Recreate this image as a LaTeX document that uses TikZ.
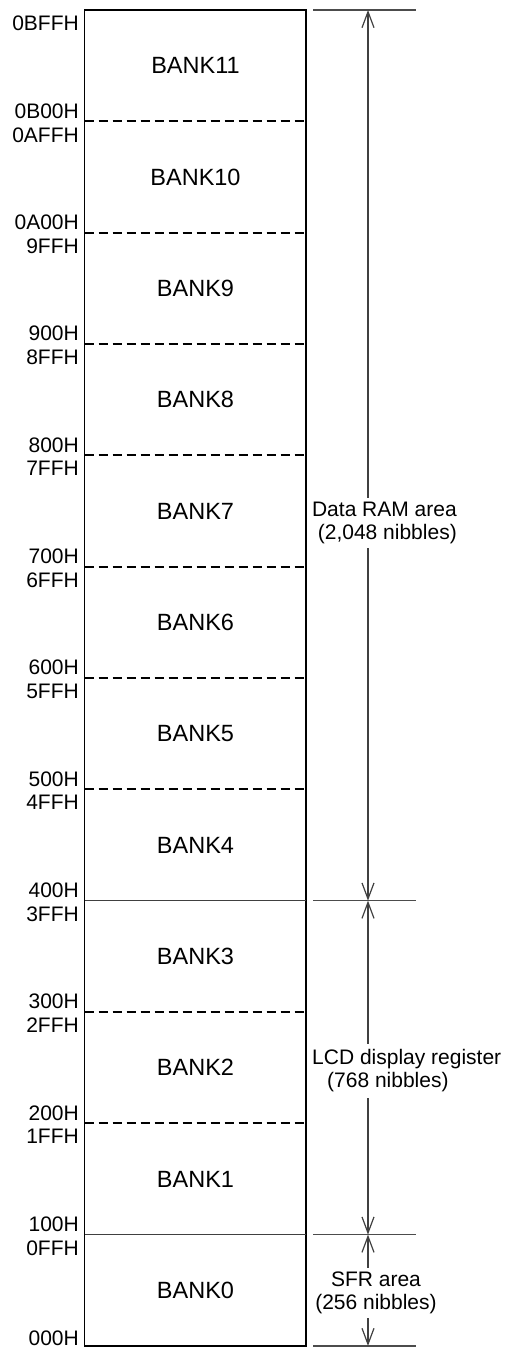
\documentclass[tikz,border=0pt]{standalone}
\usepackage{fontspec}
\setmainfont{Liberation Sans}
\usetikzlibrary{positioning, arrows.meta}

\begin{document}
\begin{tikzpicture}[
  x=1pt, y=-1pt,
  font=\fontsize{21}{23}\selectfont,
  frame/.style={draw=black, line width=1.8pt},
  split/.style={draw=black!75, line width=1.2pt},
  dashsplit/.style={draw=black, line width=1.8pt, dash pattern=on 9pt off 5pt},
  addr/.style={inner sep=0pt},
  bank/.style={inner sep=0pt, font=\fontsize{23.5}{26}\selectfont},
  tick/.style={draw=black!70, line width=1.2pt},
  span/.style={{Straight Barb[length=16pt, width=12pt]}-{Straight Barb[length=16pt, width=12pt]}, draw=black!75, line width=1.2pt},
  area/.style={fill=white, inner xsep=3pt, inner ysep=4pt}
]
  \useasboundingbox (0,0) rectangle (505,1350);
  \def\T{10}
  \def\H{111.33}
  \def\L{84.5}
  \def\R{306}
  \def\A{368}
  % memory map
  \draw[frame] (\L,\T) rectangle (\R,{\T+12*\H});
  \foreach \i in {1,...,7,9,10}
    \draw[dashsplit] (\L,{\T+\i*\H}) -- (\R,{\T+\i*\H});
  \foreach \i in {8,11}
    \draw[split] (\L,{\T+\i*\H}) -- (\R,{\T+\i*\H});
  \foreach \i in {0,...,11}
    \node[bank] (bank\i) at (195.5,{\T+(11.5-\i)*\H}) {BANK\i};
  % addresses
  \node[addr, anchor=north east] (a0) at (79,{\T+6}) {0BFFH};
  \foreach \i/\hi/\lo in {1/0B00H/0AFFH, 2/0A00H/9FFH, 3/900H/8FFH, 4/800H/7FFH,
      5/700H/6FFH, 6/600H/5FFH, 7/500H/4FFH, 8/400H/3FFH, 9/300H/2FFH,
      10/200H/1FFH, 11/100H/0FFH} {
    \node[addr, anchor=base east] (hi\i) at (79,{\T+\i*\H-3}) {\hi};
    \node[addr, anchor=north east] (lo\i) at (79,{\T+\i*\H+6}) {\lo};
  }
  \node[addr, anchor=base east] (a12) at (79,{\T+12*\H}) {000H};
  % area spans
  \foreach \n/\i in {t0/0, t8/8, t11/11, t12/12} {
    \coordinate (\n) at (\A,{\T+\i*\H});
    \draw[tick] (313,{\T+\i*\H}) -- (416,{\T+\i*\H});
  }
  \draw[span] (t0) -- (t8);
  \draw[span] (t8) -- (t11);
  \draw[span] (t11) -- (t12);
  \node[area, align=right, anchor=east] (ram) at (460,523) {Data RAM area\\(2,048 nibbles)};
  \node[area, inner ysep=6pt, align=left, anchor=west] (lcd) at (309,1071)
    {LCD display register\\\hspace*{15pt}(768 nibbles)};
  \node[area, align=center] (sfr) at (376,1293) {SFR area\\(256 nibbles)};
\end{tikzpicture}
\end{document}
